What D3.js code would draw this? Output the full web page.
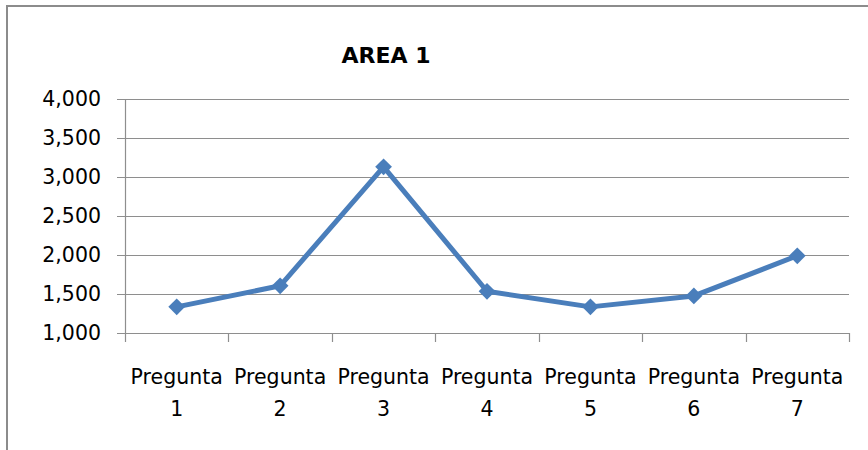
<!DOCTYPE html>
<html><head><meta charset="utf-8">
<script src="https://cdn.jsdelivr.net/npm/d3@7"></script>
<style>body{margin:0;background:#fff}svg{display:block}text{font-family:"DejaVu Sans",sans-serif;fill:#000}</style>
</head><body>
<svg id="c" width="868" height="450"></svg>
<script>
const title = "AREA 1";
const categories = ["Pregunta 1","Pregunta 2","Pregunta 3","Pregunta 4","Pregunta 5","Pregunta 6","Pregunta 7"];
const values = [1335, 1605, 3130, 1535, 1335, 1475, 1990];
const yTicks = [1000,1500,2000,2500,3000,3500,4000];

const svg = d3.select("#c");
const W=868,H=450;
svg.append("rect").attr("x",7).attr("y",6).attr("width",W+10).attr("height",H+10)
  .attr("fill","#fff").attr("stroke","#8c8c8c").attr("stroke-width",2);

const m={l:125,r:849,t:99,b:333};
const x=d3.scaleBand().domain(categories).range([m.l,m.r]).padding(0);
const y=d3.scaleLinear().domain([1000,4000]).range([m.b,m.t]);
const grid="#8e8e8e";

svg.append("g").selectAll("line").data(yTicks).join("line")
  .attr("x1",117).attr("x2",m.r).attr("y1",d=>Math.round(y(d))+0.5).attr("y2",d=>Math.round(y(d))+0.5)
  .attr("stroke",grid).attr("stroke-width",1.2);
svg.append("line").attr("x1",m.l+0.5).attr("x2",m.l+0.5).attr("y1",m.t).attr("y2",m.b)
  .attr("stroke",grid).attr("stroke-width",1.2);
const bounds=categories.map(c=>x(c)).concat([m.r]);
svg.append("g").selectAll("line").data(bounds).join("line")
  .attr("x1",d=>Math.round(d)+0.5).attr("x2",d=>Math.round(d)+0.5).attr("y1",m.b).attr("y2",m.b+9)
  .attr("stroke",grid).attr("stroke-width",1.2);

const fmt=d3.format(",");
svg.append("g").selectAll("text").data(yTicks).join("text")
  .attr("x",101).attr("y",d=>y(d)).attr("dy","0.36em").attr("text-anchor","end")
  .attr("font-size",20.5).text(d=>fmt(d));

const xl=svg.append("g").selectAll("text").data(categories).join("text")
  .attr("x",d=>x(d)+x.bandwidth()/2).attr("text-anchor","middle").attr("font-size",20.5);
xl.append("tspan").attr("x",d=>x(d)+x.bandwidth()/2).attr("y",384).text(d=>d.split(" ")[0]);
xl.append("tspan").attr("x",d=>x(d)+x.bandwidth()/2).attr("y",416).text(d=>d.split(" ")[1]);

svg.append("text").attr("x",386).attr("y",63).attr("text-anchor","middle")
  .attr("font-size",22).attr("font-weight","bold").text(title);

const cx=(d,i)=>x(categories[i])+x.bandwidth()/2;
svg.append("path").datum(values)
  .attr("d",d3.line().x(cx).y(d=>y(d)))
  .attr("fill","none").attr("stroke","#4a7ebb").attr("stroke-width",5).attr("stroke-linejoin","round");
svg.append("g").selectAll("path").data(values).join("path")
  .attr("d",d3.symbol().type(d3.symbolSquare).size(140))
  .attr("transform",(d,i)=>`translate(${cx(d,i)},${y(d)}) rotate(45)`)
  .attr("fill","#4a7ebb");
</script>
</body></html>
